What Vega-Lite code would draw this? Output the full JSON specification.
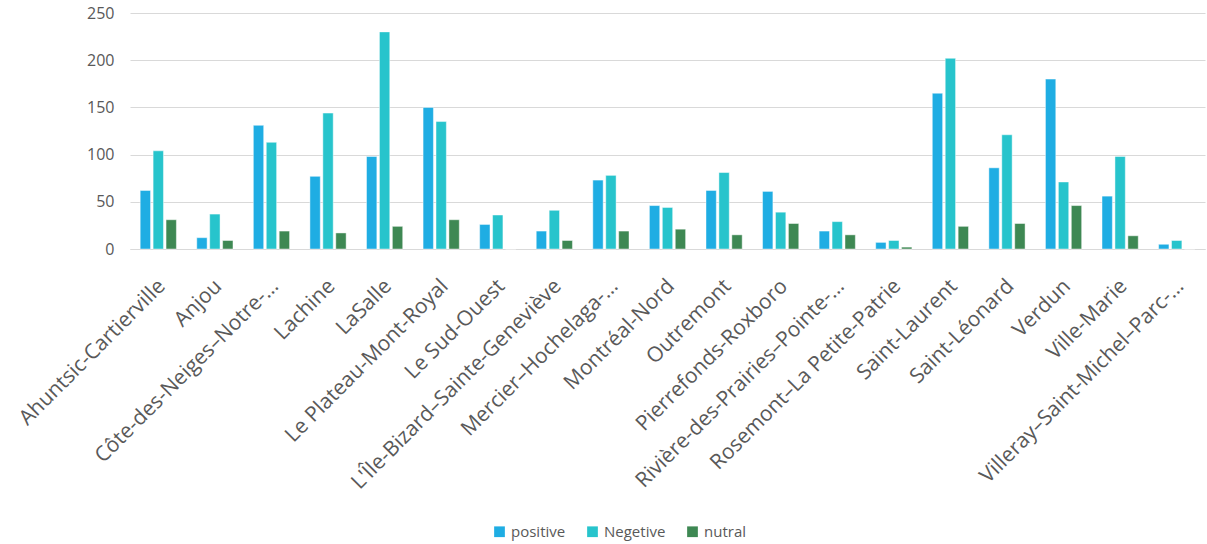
{
  "$schema": "https://vega.github.io/schema/vega-lite/v6.json",
  "width": 1075,
  "height": 236,
  "autosize": {"type": "none"},
  "padding": {"left": 130, "top": 13, "right": 2, "bottom": 295},
  "background": "white",
  "config": {
    "font": "Open Sans",
    "view": {"stroke": null}
  },
  "data": {
    "values": [
      {"district": "Ahuntsic-Cartierville", "sentiment": "positive", "count": 62},
      {"district": "Ahuntsic-Cartierville", "sentiment": "Negetive", "count": 104},
      {"district": "Ahuntsic-Cartierville", "sentiment": "nutral", "count": 31},
      {"district": "Anjou", "sentiment": "positive", "count": 12},
      {"district": "Anjou", "sentiment": "Negetive", "count": 37},
      {"district": "Anjou", "sentiment": "nutral", "count": 9},
      {"district": "Côte-des-Neiges–Notre-…", "sentiment": "positive", "count": 131},
      {"district": "Côte-des-Neiges–Notre-…", "sentiment": "Negetive", "count": 113},
      {"district": "Côte-des-Neiges–Notre-…", "sentiment": "nutral", "count": 19},
      {"district": "Lachine", "sentiment": "positive", "count": 77},
      {"district": "Lachine", "sentiment": "Negetive", "count": 144},
      {"district": "Lachine", "sentiment": "nutral", "count": 17},
      {"district": "LaSalle", "sentiment": "positive", "count": 98},
      {"district": "LaSalle", "sentiment": "Negetive", "count": 230},
      {"district": "LaSalle", "sentiment": "nutral", "count": 24},
      {"district": "Le Plateau-Mont-Royal", "sentiment": "positive", "count": 150},
      {"district": "Le Plateau-Mont-Royal", "sentiment": "Negetive", "count": 135},
      {"district": "Le Plateau-Mont-Royal", "sentiment": "nutral", "count": 31},
      {"district": "Le Sud-Ouest", "sentiment": "positive", "count": 26},
      {"district": "Le Sud-Ouest", "sentiment": "Negetive", "count": 36},
      {"district": "Le Sud-Ouest", "sentiment": "nutral", "count": 0},
      {"district": "L'Île-Bizard–Sainte-Geneviève", "sentiment": "positive", "count": 19},
      {"district": "L'Île-Bizard–Sainte-Geneviève", "sentiment": "Negetive", "count": 41},
      {"district": "L'Île-Bizard–Sainte-Geneviève", "sentiment": "nutral", "count": 9},
      {"district": "Mercier–Hochelaga-…", "sentiment": "positive", "count": 73},
      {"district": "Mercier–Hochelaga-…", "sentiment": "Negetive", "count": 78},
      {"district": "Mercier–Hochelaga-…", "sentiment": "nutral", "count": 19},
      {"district": "Montréal-Nord", "sentiment": "positive", "count": 46},
      {"district": "Montréal-Nord", "sentiment": "Negetive", "count": 44},
      {"district": "Montréal-Nord", "sentiment": "nutral", "count": 21},
      {"district": "Outremont", "sentiment": "positive", "count": 62},
      {"district": "Outremont", "sentiment": "Negetive", "count": 81},
      {"district": "Outremont", "sentiment": "nutral", "count": 15},
      {"district": "Pierrefonds-Roxboro", "sentiment": "positive", "count": 61},
      {"district": "Pierrefonds-Roxboro", "sentiment": "Negetive", "count": 39},
      {"district": "Pierrefonds-Roxboro", "sentiment": "nutral", "count": 27},
      {"district": "Rivière-des-Prairies–Pointe-…", "sentiment": "positive", "count": 19},
      {"district": "Rivière-des-Prairies–Pointe-…", "sentiment": "Negetive", "count": 29},
      {"district": "Rivière-des-Prairies–Pointe-…", "sentiment": "nutral", "count": 15},
      {"district": "Rosemont–La Petite-Patrie", "sentiment": "positive", "count": 7},
      {"district": "Rosemont–La Petite-Patrie", "sentiment": "Negetive", "count": 9},
      {"district": "Rosemont–La Petite-Patrie", "sentiment": "nutral", "count": 2},
      {"district": "Saint-Laurent", "sentiment": "positive", "count": 165},
      {"district": "Saint-Laurent", "sentiment": "Negetive", "count": 202},
      {"district": "Saint-Laurent", "sentiment": "nutral", "count": 24},
      {"district": "Saint-Léonard", "sentiment": "positive", "count": 86},
      {"district": "Saint-Léonard", "sentiment": "Negetive", "count": 121},
      {"district": "Saint-Léonard", "sentiment": "nutral", "count": 27},
      {"district": "Verdun", "sentiment": "positive", "count": 180},
      {"district": "Verdun", "sentiment": "Negetive", "count": 71},
      {"district": "Verdun", "sentiment": "nutral", "count": 46},
      {"district": "Ville-Marie", "sentiment": "positive", "count": 56},
      {"district": "Ville-Marie", "sentiment": "Negetive", "count": 98},
      {"district": "Ville-Marie", "sentiment": "nutral", "count": 14},
      {"district": "Villeray–Saint-Michel–Parc-…", "sentiment": "positive", "count": 5},
      {"district": "Villeray–Saint-Michel–Parc-…", "sentiment": "Negetive", "count": 9},
      {"district": "Villeray–Saint-Michel–Parc-…", "sentiment": "nutral", "count": 0}
    ]
  },
  "mark": {"type": "bar", "stroke": "#FFFFFF", "strokeOpacity": 0.45, "strokeWidth": 1},
  "encoding": {
    "x": {
      "field": "district",
      "type": "nominal",
      "sort": null,
      "scale": {"paddingInner": 0.36, "paddingOuter": 0.18},
      "axis": {
        "title": null,
        "labelAngle": -45,
        "labelFontSize": 21,
        "labelColor": "#595959",
        "labelPadding": 26,
        "labelOffset": -4,
        "labelLimit": 400,
        "ticks": false,
        "domainColor": "#D9D9D9",
        "domainWidth": 1
      }
    },
    "xOffset": {
      "field": "sentiment",
      "type": "nominal",
      "sort": ["positive", "Negetive", "nutral"],
      "scale": {"paddingInner": 0.2, "paddingOuter": 0}
    },
    "y": {
      "field": "count",
      "type": "quantitative",
      "scale": {"domain": [0, 250], "nice": false},
      "axis": {
        "title": null,
        "values": [0, 50, 100, 150, 200, 250],
        "labelFontSize": 16,
        "labelColor": "#595959",
        "labelPadding": 16,
        "ticks": false,
        "domain": false,
        "gridColor": "#D9D9D9",
        "gridWidth": 1
      }
    },
    "color": {
      "field": "sentiment",
      "type": "nominal",
      "scale": {
        "domain": ["positive", "Negetive", "nutral"],
        "range": ["#1FADE3", "#27C4CC", "#3E8853"]
      },
      "legend": {
        "title": null,
        "orient": "none",
        "direction": "horizontal",
        "legendX": 362,
        "legendY": 511,
        "symbolType": "square",
        "symbolSize": 115,
        "symbolStrokeWidth": 0,
        "labelFontSize": 15,
        "labelColor": "#595959",
        "labelOffset": 4,
        "columnPadding": 19
      }
    }
  }
}
